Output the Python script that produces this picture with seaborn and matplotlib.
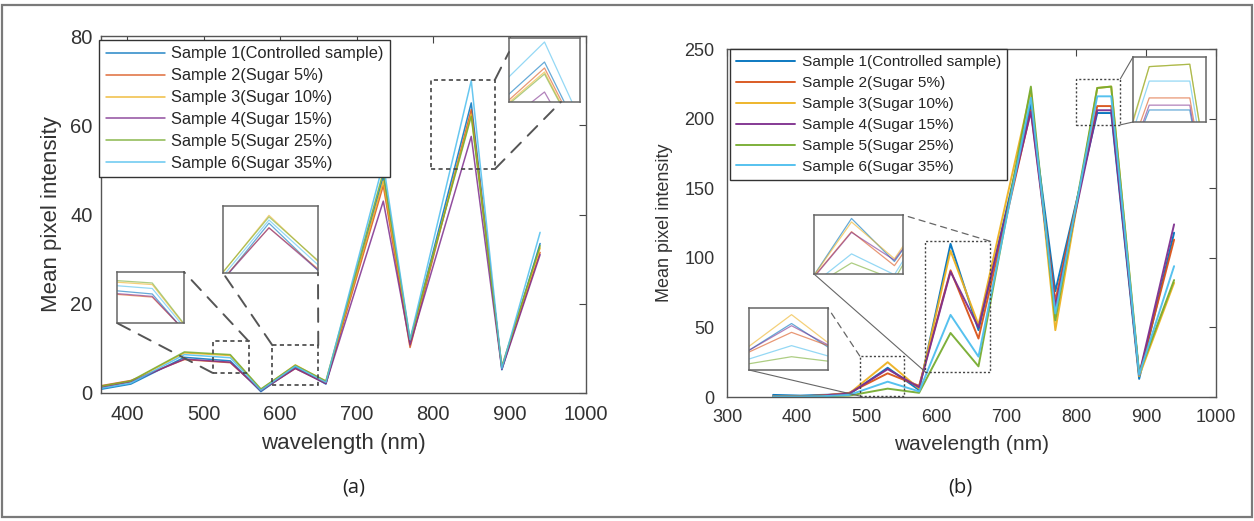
import numpy as np
import pandas as pd
import matplotlib
matplotlib.use("Agg")
import matplotlib.pyplot as plt
from matplotlib.patches import Rectangle, ConnectionPatch
import seaborn as sns

# ---- data -----------------------------------------------------------------
samples = ["Sample 1(Controlled sample)", "Sample 2(Sugar 5%)", "Sample 3(Sugar 10%)",
           "Sample 4(Sugar 15%)", "Sample 5(Sugar 25%)", "Sample 6(Sugar 35%)"]
colors = ["#0072BD", "#D95319", "#EDB120", "#7E2F8E", "#77AC30", "#4DBEEE"]

# panel (a)
wl_a = [365, 405, 475, 535, 575, 620, 660, 735, 770, 850, 890, 940]
a_s1 = [0.8, 2.0, 8.0, 7.2, 0.3, 5.8, 2.0, 48.5, 11.5, 65.0, 5.2, 33.5]
a_s2 = [1.6, 2.8, 7.5, 6.8, 0.6, 5.5, 2.2, 46.5, 10.2, 63.5, 5.6, 31.5]
a_s3 = [1.3, 2.6, 9.0, 8.4, 0.8, 6.3, 2.6, 47.5, 11.8, 62.5, 5.8, 32.5]
a_s4 = [1.2, 2.5, 7.6, 6.9, 0.5, 5.5, 2.1, 43.0, 10.8, 57.5, 5.3, 31.0]
a_s5 = [1.5, 2.7, 9.2, 8.6, 0.9, 6.2, 2.7, 49.5, 12.0, 62.0, 6.0, 33.0]
a_s6 = [1.0, 2.2, 8.6, 7.9, 0.6, 6.0, 2.4, 51.5, 12.0, 70.0, 5.5, 36.0]

# panel (b)
wl_b = [366, 405, 435, 475, 530, 575, 620, 660, 735, 770, 830, 850, 890, 940]
b_s1 = [1.5, 1.0, 1.5, 2.0, 21, 5, 110, 48, 210, 76, 204, 204, 13, 118]
b_s2 = [0.5, 0.5, 1.0, 3.0, 17, 8, 91, 42, 206, 69, 209, 209, 16, 113]
b_s3 = [0.5, 0.5, 1.0, 2.5, 25, 6, 105, 52, 220, 48, 222, 223, 15, 82]
b_s4 = [0.5, 0.5, 1.0, 2.5, 20, 7, 90, 50, 205, 65, 206, 206, 16, 124]
b_s5 = [0.3, 0.3, 0.5, 1.0, 6, 3, 46, 22, 223, 55, 222, 223, 17, 84]
b_s6 = [0.3, 0.3, 0.5, 1.5, 11, 4, 59, 29, 215, 60, 216, 216, 16, 94]


def long_form(wl, series):
    frames = [pd.DataFrame({"wavelength": wl, "intensity": vals, "sample": name})
              for name, vals in zip(samples, series)]
    return pd.concat(frames, ignore_index=True)


df_a = long_form(wl_a, [a_s1, a_s2, a_s3, a_s4, a_s5, a_s6])
df_b = long_form(wl_b, [b_s1, b_s2, b_s3, b_s4, b_s5, b_s6])

# ---- style ----------------------------------------------------------------
sns.set_style("white")
plt.rcParams["font.family"] = ["Liberation Sans", "DejaVu Sans"]

W, H = 1254, 521
fig = plt.figure(figsize=(W / 100, H / 100), dpi=100)


def px_axes(x0, y0, x1, y1):
    """Axes placed by pixel box (y measured from the top)."""
    return fig.add_axes([x0 / W, 1 - y1 / H, (x1 - x0) / W, (y1 - y0) / H])


def style_main(ax, labelsize, xpad, ypad):
    for s in ax.spines.values():
        s.set_visible(True)
        s.set_color("#555555")
        s.set_linewidth(1.0)
    ax.tick_params(direction="in", top=True, right=True, length=5, width=0.8,
                   colors="#444444", labelsize=labelsize, labelcolor="#333333")
    ax.tick_params(axis="x", pad=xpad)
    ax.tick_params(axis="y", pad=ypad)


def style_inset(ax):
    ax.set_xticks([])
    ax.set_yticks([])
    ax.set_xlabel("")
    ax.set_ylabel("")
    for s in ax.spines.values():
        s.set_visible(True)
        s.set_color("#666666")
        s.set_linewidth(1.1)


def draw(ax, df, lw, alpha, legend):
    sns.lineplot(data=df, x="wavelength", y="intensity", hue="sample",
                 hue_order=samples, palette=colors, estimator=None,
                 linewidth=lw, alpha=alpha, ax=ax, legend=legend)


def connect(ax_main, xy_data, ax_in, xy_frac, ls, color, lw):
    con = ConnectionPatch(xyA=xy_data, coordsA=ax_main.transData,
                          xyB=xy_frac, coordsB=ax_in.transAxes,
                          linestyle=ls, color=color, linewidth=lw, zorder=5)
    fig.add_artist(con)


def box(ax, x0, x1, y0, y1, ls, color, lw):
    ax.add_patch(Rectangle((x0, y0), x1 - x0, y1 - y0, fill=False, linestyle=ls,
                           edgecolor=color, linewidth=lw, zorder=6, clip_on=False))


# ---- panel (a) ------------------------------------------------------------
ax_a = px_axes(101, 36, 586, 393)
draw(ax_a, df_a, 1.1, 0.85, True)
ax_a.set_xlim(366, 1000)
ax_a.set_ylim(0, 80)
ax_a.set_xticks([400, 500, 600, 700, 800, 900, 1000])
ax_a.set_yticks([0, 20, 40, 60, 80])
style_main(ax_a, 14.5, 9, 6)
ax_a.set_xlabel("wavelength (nm)", fontsize=16, color="#333333", labelpad=6)
ax_a.set_ylabel("Mean pixel intensity", fontsize=16, color="#333333", labelpad=6)
leg = ax_a.legend(loc="upper left", bbox_to_anchor=(-0.004, 0.989), borderaxespad=0,
                  fontsize=11.8, handlelength=3.6, handletextpad=0.4,
                  labelspacing=0.42, borderpad=0.4, fancybox=False, framealpha=1)
leg.get_frame().set_edgecolor("#333333")
leg.get_frame().set_linewidth(1.0)

dash_box = (0, (2.5, 2))
dash_con = (0, (7, 5))
box(ax_a, 512, 559, 4.5, 11.6, dash_box, "#444444", 1.2)
box(ax_a, 590, 650, 1.8, 10.7, dash_box, "#444444", 1.2)
box(ax_a, 797, 881, 50.2, 70.2, dash_box, "#444444", 1.2)

in_a1 = px_axes(117, 272, 184, 323)
draw(in_a1, df_a, 0.9, 0.6, False)
in_a1.set_xlim(505, 562)
in_a1.set_ylim(3.5, 10.0)
style_inset(in_a1)

in_a2 = px_axes(223, 206, 318, 273)
draw(in_a2, df_a, 0.9, 0.6, False)
in_a2.set_xlim(590, 652)
in_a2.set_ylim(2.6, 6.9)
style_inset(in_a2)

in_a3 = px_axes(509, 38, 580, 102)
draw(in_a3, df_a, 0.9, 0.6, False)
in_a3.set_xlim(838, 862)
in_a3.set_ylim(55, 71)
style_inset(in_a3)

connect(ax_a, (559, 11.6), in_a1, (1, 1), dash_con, "#555555", 1.4)
connect(ax_a, (512, 4.5), in_a1, (0, 0), dash_con, "#555555", 1.4)
connect(ax_a, (590, 10.7), in_a2, (0, 0), dash_con, "#555555", 1.4)
connect(ax_a, (650, 10.7), in_a2, (1, 0), dash_con, "#555555", 1.4)
connect(ax_a, (881, 70.2), in_a3, (0, 0.78), dash_con, "#555555", 1.4)
connect(ax_a, (881, 50.2), in_a3, (0.73, 0), dash_con, "#555555", 1.4)

# ---- panel (b) ------------------------------------------------------------
ax_b = px_axes(727, 49, 1216, 397)
draw(ax_b, df_b, 1.4, 0.95, True)
ax_b.set_xlim(300, 1000)
ax_b.set_ylim(0, 250)
ax_b.set_xticks([300, 400, 500, 600, 700, 800, 900, 1000])
ax_b.set_yticks([0, 50, 100, 150, 200, 250])
style_main(ax_b, 13, 9, 9)
ax_b.set_xlabel("wavelength (nm)", fontsize=15, color="#333333", labelpad=6)
ax_b.set_ylabel("Mean pixel intensity", fontsize=13, color="#333333", labelpad=8)
leg_b = ax_b.legend(loc="upper left", bbox_to_anchor=(0.006, 1.0), borderaxespad=0,
                    fontsize=11.1, handlelength=3.8, handletextpad=0.45,
                    labelspacing=0.45, borderpad=0.4, fancybox=False, framealpha=1)
leg_b.get_frame().set_edgecolor("#333333")
leg_b.get_frame().set_linewidth(1.0)

dot_box = (0, (1.5, 1.5))
box(ax_b, 490, 553, 0.7, 29.5, dot_box, "#444444", 1.0)
box(ax_b, 584, 676, 18, 112, dot_box, "#444444", 1.0)
box(ax_b, 800, 863, 195.5, 228.5, dot_box, "#444444", 1.0)

in_b1 = px_axes(749, 308, 828, 370)
draw(in_b1, df_b, 0.9, 0.6, False)
in_b1.set_xlim(495, 560)
in_b1.set_ylim(0, 28)
style_inset(in_b1)

in_b2 = px_axes(814, 215, 903, 274)
draw(in_b2, df_b, 0.9, 0.6, False)
in_b2.set_xlim(585, 668)
in_b2.set_ylim(30, 115)
style_inset(in_b2)

in_b3 = px_axes(1133, 57, 1206, 122)
draw(in_b3, df_b, 0.9, 0.6, False)
in_b3.set_xlim(822, 858)
in_b3.set_ylim(199, 226)
style_inset(in_b3)

thin_dash = (0, (5, 4))
connect(ax_b, (490, 29.5), in_b1, (1, 1), thin_dash, "#666666", 0.9)
connect(ax_b, (490, 0.7), in_b1, (0, 0), "-", "#666666", 0.8)
connect(ax_b, (676, 112), in_b2, (1, 1), thin_dash, "#666666", 0.9)
connect(ax_b, (584, 18), in_b2, (0, 0), "-", "#666666", 0.8)
connect(ax_b, (863, 228.5), in_b3, (0, 1), "-", "#666666", 0.8)
connect(ax_b, (863, 195.5), in_b3, (0, 0), "-", "#666666", 0.8)

# ---- panel captions and outer frame ----------------------------------------
fig.text(354 / W, 1 - 488 / H, "(a)", ha="center", va="center", fontsize=14.5,
         family=["Open Sans", "DejaVu Sans"], color="#222222")
fig.text(960 / W, 1 - 488 / H, "(b)", ha="center", va="center", fontsize=14.5,
         family=["Open Sans", "DejaVu Sans"], color="#222222")
fig.patches.append(Rectangle((2 / W, 4 / H), (W - 4) / W, (H - 9) / H, fill=False,
                             edgecolor="#7a7a7a", linewidth=1.6,
                             transform=fig.transFigure, figure=fig))

fig.savefig("out.png", dpi=100, facecolor="white")
